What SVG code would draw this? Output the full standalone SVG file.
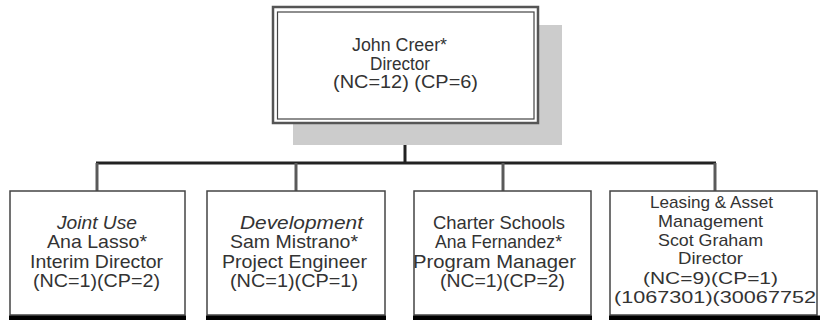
<svg xmlns="http://www.w3.org/2000/svg" width="820" height="320" viewBox="0 0 820 320">
<style>
.t{font-family:"Liberation Sans",Arial,sans-serif;font-size:18.5px;fill:#333}
.s{font-size:17.5px}
.n{font-size:17px}
.i{font-style:italic}
.box{fill:#fff;stroke:#444;stroke-width:1.5}
.bot{stroke:#000;stroke-width:5}
.c{fill:none;stroke:#222;stroke-width:3}
.d{fill:none;stroke:#5a5a5a;stroke-width:3}
</style>
<rect width="820" height="320" fill="#fff"/>
<g id="connectors">
<line class="c" x1="405" y1="124" x2="405" y2="163"/>
<line class="c" x1="96" y1="163" x2="716" y2="163"/>
<line class="d" x1="97" y1="163" x2="97" y2="191"/>
<line class="d" x1="296" y1="163" x2="296" y2="191"/>
<line class="d" x1="503" y1="163" x2="503" y2="191"/>
<line class="d" x1="715" y1="163" x2="715" y2="191"/>
</g>
<g id="director">
<rect x="293" y="25" width="269" height="120" fill="#ccc"/>
<rect x="273" y="7" width="265" height="116" fill="#fff" stroke="#555" stroke-width="2.5"/>
<rect x="277.5" y="12" width="256.5" height="107" fill="none" stroke="#444" stroke-width="1.2"/>
<text class="t s" x="352" y="51" textLength="95" lengthAdjust="spacingAndGlyphs">John Creer*</text>
<text class="t s" x="370" y="69.5" textLength="60" lengthAdjust="spacingAndGlyphs">Director</text>
<text class="t s" x="333" y="88" textLength="145" lengthAdjust="spacingAndGlyphs">(NC=12) (CP=6)</text>
</g>
<g id="joint-use">
<rect class="box" x="10" y="191" width="175" height="124"/>
<line class="bot" x1="9" y1="318" x2="186" y2="318"/>
<text class="t i" x="57" y="229" textLength="80" lengthAdjust="spacingAndGlyphs">Joint Use</text>
<text class="t" x="47" y="248" textLength="100" lengthAdjust="spacingAndGlyphs">Ana Lasso*</text>
<text class="t" x="30" y="267.5" textLength="133" lengthAdjust="spacingAndGlyphs">Interim Director</text>
<text class="t" x="33" y="287" textLength="127" lengthAdjust="spacingAndGlyphs">(NC=1)(CP=2)</text>
</g>
<g id="development">
<rect class="box" x="207" y="191" width="178" height="124"/>
<line class="bot" x1="206" y1="318" x2="386" y2="318"/>
<text class="t i" x="240" y="229" textLength="123" lengthAdjust="spacingAndGlyphs">Development</text>
<text class="t" x="230" y="248" textLength="128" lengthAdjust="spacingAndGlyphs">Sam Mistrano*</text>
<text class="t" x="222" y="267.5" textLength="145" lengthAdjust="spacingAndGlyphs">Project Engineer</text>
<text class="t" x="230" y="287" textLength="128" lengthAdjust="spacingAndGlyphs">(NC=1)(CP=1)</text>
</g>
<g id="charter-schools">
<rect class="box" x="414" y="191" width="177" height="124"/>
<line class="bot" x1="413" y1="318" x2="592" y2="318"/>
<text class="t" x="433" y="229" textLength="132" lengthAdjust="spacingAndGlyphs">Charter Schools</text>
<text class="t" x="435" y="248" textLength="127" lengthAdjust="spacingAndGlyphs">Ana Fernandez*</text>
<text class="t" x="413" y="267.5" textLength="163" lengthAdjust="spacingAndGlyphs">Program Manager</text>
<text class="t" x="440" y="287" textLength="125" lengthAdjust="spacingAndGlyphs">(NC=1)(CP=2)</text>
</g>
<g id="leasing">
<rect class="box" x="610" y="191" width="207" height="124"/>
<line class="bot" x1="609" y1="318" x2="820" y2="318"/>
<text class="t n" x="650" y="207.5" textLength="123" lengthAdjust="spacingAndGlyphs">Leasing &amp; Asset</text>
<text class="t n" x="658" y="226.5" textLength="105" lengthAdjust="spacingAndGlyphs">Management</text>
<text class="t n" x="658" y="245.5" textLength="105" lengthAdjust="spacingAndGlyphs">Scot Graham</text>
<text class="t n" x="678" y="264" textLength="65" lengthAdjust="spacingAndGlyphs">Director</text>
<text class="t n" x="643" y="283.5" textLength="135" lengthAdjust="spacingAndGlyphs">(NC=9)(CP=1)</text>
<text class="t n" x="614" y="302.5" textLength="202" lengthAdjust="spacingAndGlyphs">(1067301)(30067752</text>
</g>
</svg>
